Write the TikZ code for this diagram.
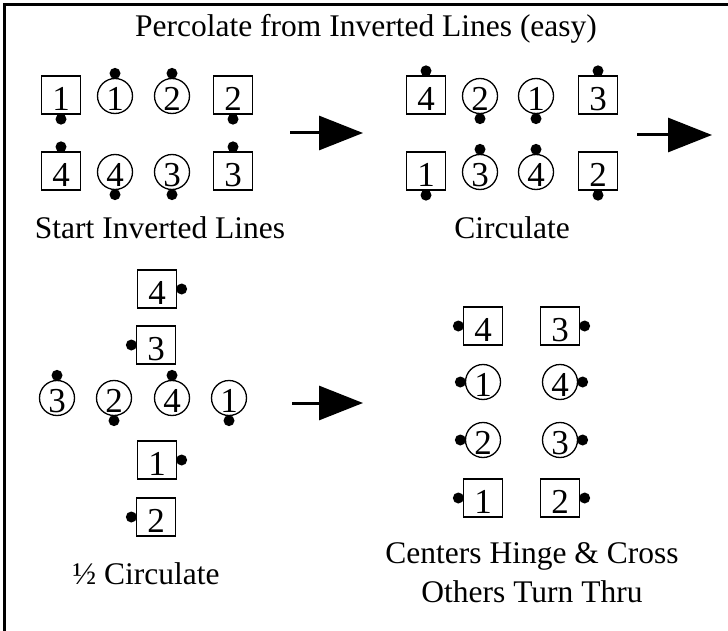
\documentclass[tikz,border=0pt]{standalone}
\usepackage{fontspec}
\setmainfont{Liberation Serif}
\usetikzlibrary{arrows.meta}

\tikzset{
  boy/.style={draw, line width=1.3pt, minimum width=39pt, minimum height=38pt,
    inner sep=0pt, font=\fontsize{35}{40}\selectfont, text height=31pt, text depth=0pt},
  girl/.style={draw, circle, line width=1.3pt, minimum size=35pt,
    inner sep=0pt, font=\fontsize{35}{40}\selectfont, text height=29pt, text depth=0pt},
  nose/.style={circle, fill=black, inner sep=0pt, minimum size=11pt, label distance=-1.2pt},
  headup/.style={label={[nose]north:{}}},
  headdown/.style={label={[nose]south:{}}},
  headleft/.style={label={[nose]west:{}}},
  headright/.style={label={[nose]east:{}}},
  bigarrow/.style={line width=3pt, -{Triangle[length=44pt,width=34pt]}},
  caption/.style={anchor=base, inner sep=0pt},
}

\begin{document}
\begin{tikzpicture}[x=1pt, y=-1pt, font=\fontsize{31.5}{39}\selectfont]
\useasboundingbox (0,0) rectangle (728,631);
\draw[line width=3pt] (4.5,631) -- (4.5,4.5) -- (728,4.5);

\node[caption] (title) at (366,37) {Percolate from Inverted Lines (easy)};

% Start Inverted Lines
\node[boy, headdown] (sb1) at (61,95) {1};
\node[girl, headup] (sg1) at (115,96) {1};
\node[girl, headup] (sg2) at (172,96) {2};
\node[boy, headdown] (sb2) at (233,95) {2};
\node[boy, headup] (sb4) at (61,171) {4};
\node[girl, headdown] (sg4) at (115,172) {4};
\node[girl, headdown] (sg3) at (172,172) {3};
\node[boy, headup] (sb3) at (233,171) {3};
\node[caption] (startlbl) at (160,239) {Start Inverted Lines};

\coordinate (arr1a) at (290,133);
\coordinate (arr1b) at (363,133);
\draw[bigarrow] (arr1a) -- (arr1b);

% Circulate
\node[boy, headup] (cb4) at (426,95) {4};
\node[girl, headdown] (cg2) at (480,96) {2};
\node[girl, headdown] (cg1) at (536,96) {1};
\node[boy, headup] (cb3) at (598,95) {3};
\node[boy, headdown] (cb1) at (426,171) {1};
\node[girl, headup] (cg3) at (480,172) {3};
\node[girl, headup] (cg4) at (536,172) {4};
\node[boy, headdown] (cb2) at (598,171) {2};
\node[caption] (circlbl) at (512,239) {Circulate};

\coordinate (arr2a) at (637,135);
\coordinate (arr2b) at (712,135);
\draw[bigarrow] (arr2a) -- (arr2b);

% 1/2 Circulate
\node[boy, headright] (hb4) at (157,289) {4};
\node[boy, headleft] (hb3) at (156,345) {3};
\node[girl, headup] (hg3) at (57,398) {3};
\node[girl, headdown] (hg2) at (114,398) {2};
\node[girl, headup] (hg4) at (172,398) {4};
\node[girl, headdown] (hg1) at (229,398) {1};
\node[boy, headright] (hb1) at (157,460) {1};
\node[boy, headleft] (hb2) at (156,517) {2};
\node[caption] (halflbl) at (146,584) {½ Circulate};

\coordinate (arr3a) at (292,403);
\coordinate (arr3b) at (363,403);
\draw[bigarrow] (arr3a) -- (arr3b);

% Centers Hinge & Cross, Others Turn Thru
\node[boy, headleft] (fb4) at (483,326) {4};
\node[boy, headright] (fb3) at (560,326) {3};
\node[girl, headleft] (fg1) at (483,382) {1};
\node[girl, headright] (fg4) at (560,382) {4};
\node[girl, headleft] (fg2) at (483,440) {2};
\node[girl, headright] (fg3) at (560,440) {3};
\node[boy, headleft] (fb1) at (483,498) {1};
\node[boy, headright] (fb2) at (560,498) {2};
\node[caption] (hingelbl) at (532,563) {Centers Hinge \& Cross};
\node[caption] (thrulbl) at (532,602) {Others Turn Thru};
\end{tikzpicture}
\end{document}
